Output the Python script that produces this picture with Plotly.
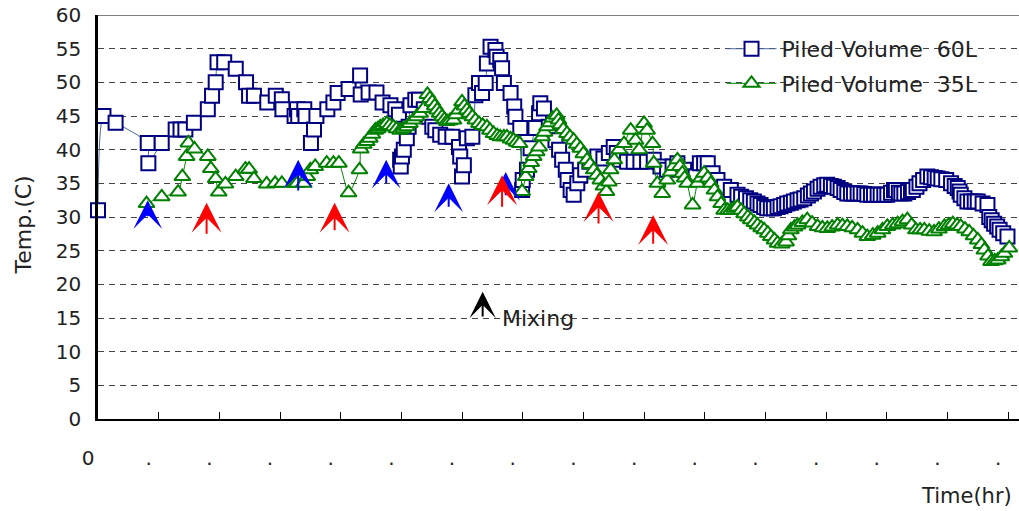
import plotly.graph_objects as go

# ---------------- data ----------------
time_60 = [0.00, 0.09, 0.29, 0.82, 0.83, 1.05, 1.28, 1.36, 1.44, 1.58, 1.81, 1.88, 1.94, 1.97, 2.08,
           2.27, 2.44, 2.49, 2.57, 2.79, 2.93, 3.03, 3.04, 3.24, 3.28, 3.30, 3.40, 3.42, 3.51, 3.56,
           3.60, 3.78, 3.88, 3.95, 4.13, 4.32, 4.33, 4.46, 4.59, 4.69, 4.82, 4.90, 4.96, 4.98, 4.99,
           5.01, 5.04, 5.09, 5.12, 5.15, 5.23, 5.29, 5.37, 5.45, 5.51, 5.56, 5.64, 5.73, 5.84, 5.95,
           5.97, 6.00, 6.03, 6.08, 6.17, 6.22, 6.28, 6.33, 6.39, 6.41, 6.47, 6.55, 6.57, 6.63, 6.66,
           6.69, 6.80, 6.86, 6.88, 6.96, 6.99, 7.00, 7.07, 7.13, 7.21, 7.27, 7.29, 7.35, 7.43, 7.54,
           7.60, 7.65, 7.71, 7.74, 7.79, 7.84, 7.90, 7.95, 8.03, 8.10, 8.23, 8.33, 8.42, 8.50, 8.55,
           8.61, 8.72, 8.83, 8.94, 9.05, 9.16, 9.27, 9.38, 9.47, 9.55, 9.66, 9.77, 9.85, 9.92, 9.99,
           10.05, 10.13, 10.21, 10.32, 10.43, 10.54, 10.60, 10.68, 10.75, 10.81, 10.87, 10.92, 10.98,
           11.03, 11.09, 11.14, 11.20, 11.25, 11.31, 11.36, 11.42, 11.47, 11.53, 11.58, 11.64, 11.70,
           11.75, 11.80, 11.86, 11.91, 11.97, 12.02, 12.08, 12.13, 12.19, 12.24, 12.30, 12.35, 12.41,
           12.46, 12.52, 12.57, 12.63, 12.68, 12.74, 12.79, 12.85, 12.90, 12.96, 13.01, 13.07, 13.12,
           13.15, 13.20, 13.24, 13.29, 13.35, 13.40, 13.43, 13.49, 13.54, 13.60, 13.67, 13.73, 13.79,
           13.84, 13.90, 13.98, 14.06, 14.12, 14.17, 14.20, 14.22, 14.28, 14.33, 14.39, 14.45, 14.50,
           14.58, 14.66, 14.69, 14.73, 14.77, 14.82, 14.86, 14.92, 14.99]
temp_60 = [31.0, 45.0, 44.0, 41.0, 38.0, 41.0, 43.0, 43.0, 43.0, 44.0, 46.0, 48.0, 50.0, 53.0, 53.0,
           52.0, 50.0, 48.0, 48.0, 47.0, 48.0, 47.5, 46.0, 45.0, 46.0, 45.0, 46.0, 45.0, 41.0, 43.0,
           45.0, 46.0, 47.0, 48.4, 49.0, 51.0, 48.2, 48.5, 48.5, 47.0, 46.6, 46.0, 45.2, 38.5, 37.5,
           39.0, 40.0, 41.7, 43.4, 46.6, 47.4, 47.4, 46.0, 44.9, 43.4, 42.9, 42.2, 41.9, 41.9, 40.4,
           39.0, 36.0, 37.7, 41.7, 41.9, 48.1, 49.9, 48.4, 49.9, 52.8, 55.3, 54.8, 53.8, 53.3, 52.1,
           49.9, 48.4, 46.4, 44.9, 43.2, 34.0, 35.5, 37.0, 40.2, 43.2, 45.4, 46.9, 46.1, 43.4, 41.4,
           40.0, 38.5, 37.0, 35.5, 34.0, 33.3, 35.0, 36.2, 37.0, 38.2, 39.0, 38.7, 39.5, 40.4, 39.5,
           38.5, 38.2, 38.2, 38.2, 38.2, 38.5, 37.5, 37.0, 37.5, 38.0, 37.0, 36.0, 36.0, 38.0, 38.0,
           38.0, 36.5, 35.5, 34.5, 34.0, 33.3, 33.0, 32.8, 32.5, 32.3, 32.0, 31.8, 31.5,
           31.3, 31.3, 31.3, 31.5, 31.6, 31.8, 32.0, 32.1, 32.3, 32.5, 32.6, 32.8, 33.2,
           33.5, 33.8, 34.2, 34.5, 34.7, 34.8, 34.6, 34.5, 34.3, 34.0, 33.7, 33.5, 33.5,
           33.5, 33.5, 33.5, 33.4, 33.3, 33.3, 33.3, 33.3, 33.3, 33.3, 33.3, 33.6, 34.0,
           34.0, 33.6, 33.5, 33.5, 33.7, 34.0, 34.0, 34.5, 35.0, 35.5, 36.0, 35.9, 35.8,
           35.7, 35.6, 35.5, 35.0, 34.6, 34.3, 33.8, 33.3, 32.8, 32.3, 32.3, 32.3, 32.3,
           32.0, 31.8, 30.0, 29.5, 29.0, 28.6, 28.1, 27.6, 27.1]

time_35 = [0.80, 1.05, 1.32, 1.39, 1.46, 1.49, 1.59, 1.81, 1.86, 1.94, 1.99, 2.10, 2.27, 2.43, 2.49,
           2.57, 2.78, 2.92, 3.03, 3.24, 3.28, 3.39, 3.45, 3.50, 3.58, 3.77, 3.88, 3.97, 4.13, 4.31,
           4.33, 4.38, 4.43, 4.48, 4.52, 4.57, 4.61, 4.65, 4.70, 4.76, 4.81, 4.87, 4.92, 4.98, 5.03,
           5.09, 5.14, 5.20, 5.25, 5.31, 5.37, 5.43, 5.47, 5.51, 5.55, 5.59, 5.63, 5.67, 5.71, 5.75,
           5.80, 5.86, 5.90, 5.95, 6.00, 6.04, 6.08, 6.12, 6.17, 6.22, 6.28, 6.34, 6.41, 6.46, 6.52,
           6.58, 6.63, 6.69, 6.74, 6.80, 6.85, 6.90, 6.95, 6.99, 7.05, 7.10, 7.14, 7.18, 7.23, 7.27,
           7.32, 7.36, 7.40, 7.45, 7.49, 7.56, 7.59, 7.62, 7.67, 7.73, 7.78, 7.84, 7.89, 7.95, 8.00,
           8.06, 8.11, 8.17, 8.22, 8.28, 8.33, 8.38, 8.42, 8.45, 8.51, 8.59, 8.67, 8.78, 8.86, 8.92,
           9.00, 9.05, 9.14, 9.16, 9.22, 9.30, 9.38, 9.44, 9.49, 9.55, 9.59, 9.63, 9.67, 9.71, 9.80,
           9.88, 9.94, 9.99, 10.05, 10.10, 10.16, 10.21, 10.27, 10.32, 10.38, 10.43, 10.49, 10.54,
           10.60, 10.65, 10.71, 10.76, 10.82, 10.87, 10.93, 10.98, 11.04, 11.09, 11.15, 11.20, 11.27,
           11.34, 11.38, 11.42, 11.48, 11.53, 11.61, 11.69, 11.77, 11.86, 11.94, 12.02, 12.10, 12.19,
           12.27, 12.35, 12.43, 12.52, 12.60, 12.68, 12.77, 12.85, 12.93, 13.01, 13.10, 13.18, 13.26,
           13.34, 13.41, 13.48, 13.55, 13.62, 13.70, 13.78, 13.86, 13.95, 14.02, 14.09, 14.16, 14.22,
           14.29, 14.36, 14.43, 14.50, 14.56, 14.61, 14.67, 14.72, 14.78, 14.83, 14.89, 14.94, 15.02]
temp_35 = [32.0, 33.0, 33.7, 36.0, 39.0, 41.0, 40.1, 39.0, 37.2, 35.7, 33.7, 34.9, 36.0, 37.1, 37.1,
           35.7, 34.9, 35.0, 35.0, 35.0, 35.0, 35.0, 36.0, 37.0, 37.5, 38.0, 38.0, 38.0, 33.6, 37.0,
           40.1, 40.8, 41.2, 41.7, 42.3, 42.9, 43.1, 43.4, 43.6, 43.9, 43.6, 43.4, 43.1, 42.9, 43.1,
           43.4, 43.9, 44.4, 44.9, 45.4, 46.1, 48.2, 47.6, 47.1, 46.5, 45.9, 45.4, 44.9, 44.5, 44.2,
           44.3, 44.4, 45.2, 45.9, 47.1, 46.5, 45.9, 45.4, 44.9, 44.4, 43.9, 43.6, 43.4, 42.9, 42.4,
           42.1, 41.9, 41.9, 41.9, 41.6, 41.4, 41.1, 40.9, 33.8, 36.0, 37.2, 38.1, 39.0, 39.7, 40.4,
           41.9, 42.6, 43.4, 44.0, 44.7, 45.1, 44.4, 43.7, 43.0, 42.4, 41.9, 41.4, 40.8, 40.2, 39.4,
           38.5, 37.8, 37.0, 36.2, 35.5, 34.6, 33.8, 35.2, 37.0, 38.5, 40.0, 40.9, 42.9, 41.4, 40.0,
           43.9, 42.9, 40.9, 38.0, 35.0, 33.5, 35.5, 36.7, 37.5, 38.5, 37.5, 36.5, 35.8, 35.0, 31.8,
           35.0, 35.8, 36.5, 35.8, 35.0, 34.0, 33.0, 32.0, 31.0, 31.0, 31.0, 31.3, 31.5,
           31.0, 30.5, 30.0, 29.6, 29.2, 28.8, 28.4, 28.1, 27.6, 27.1, 26.6, 26.1, 26.0,
           26.3, 27.2, 28.1, 28.5, 28.8, 29.2, 29.6, 29.1, 28.6, 28.4, 28.3, 28.5, 28.8,
           28.7, 28.6, 28.4, 28.1, 27.6, 27.1, 27.3, 27.6, 28.1, 28.6, 28.8, 29.0, 29.3,
           29.6, 28.8, 28.1, 28.1, 28.1, 27.9, 27.8, 28.2, 28.6, 28.8, 29.0, 28.8, 28.6,
           28.2, 27.8, 27.2, 26.6, 25.9, 25.1, 24.2, 23.4, 23.5, 23.6, 24.1, 24.6, 25.4]

series_names = ["Piled Volume\u00a0\u00a060L", "Piled Volume\u00a0\u00a035L"]

# event arrows (time, tip temp, tail temp)
blue_arrow_time = [0.82, 3.30, 4.75, 5.78, 6.72]
blue_arrow_tip = [32.5, 38.5, 38.5, 35.0, 36.7]
blue_arrow_tail = [29.9, 33.7, 34.8, 31.3, 33.0]
red_arrow_time = [1.79, 3.90, 6.66, 8.25, 9.15]
red_arrow_tip = [32.1, 32.1, 36.2, 33.7, 30.3]
red_arrow_tail = [27.3, 27.8, 31.3, 28.8, 25.8]
mix_arrow_time = 6.34
mix_arrow_tip = 18.9
mix_arrow_tail = 15.0
mix_label = "Mixing"

x_tick_vals = list(range(0, 16))
x_tick_text = ["0"] + ["."] * 15
y_tick_vals = list(range(0, 61, 5))

FONT = "DejaVu Sans"
TXT = "#222222"

fig = go.Figure()
fig.add_trace(go.Scatter(
    x=time_60, y=temp_60, name=series_names[0], mode="lines+markers",
    line=dict(color="#4a6a9a", width=1, shape="spline", smoothing=0.6),
    marker=dict(symbol="square", size=14, color="white",
                line=dict(color="#000080", width=2)),
    cliponaxis=False, legendgroup="a"))
fig.add_trace(go.Scatter(
    x=time_35, y=temp_35, name=series_names[1], mode="lines+markers",
    line=dict(color="#008000", width=1, shape="spline", smoothing=0.6),
    marker=dict(symbol="triangle-up", size=14, color="white",
                line=dict(color="#008000", width=2)),
    cliponaxis=False, legendgroup="b"))

annotations = []
for t, tip, tail in zip(blue_arrow_time, blue_arrow_tip, blue_arrow_tail):
    annotations.append(dict(x=t, y=tip, ax=t, ay=tail, xref="x", yref="y", axref="x", ayref="y",
                            text="", showarrow=True, arrowhead=3, arrowsize=2.4, arrowwidth=2,
                            arrowcolor="#0000ff"))
for t, tip, tail in zip(red_arrow_time, red_arrow_tip, red_arrow_tail):
    annotations.append(dict(x=t, y=tip, ax=t, ay=tail, xref="x", yref="y", axref="x", ayref="y",
                            text="", showarrow=True, arrowhead=3, arrowsize=2.5, arrowwidth=2,
                            arrowcolor="#ff0000"))
annotations.append(dict(x=mix_arrow_time, y=mix_arrow_tip, ax=mix_arrow_time, ay=mix_arrow_tail,
                        xref="x", yref="y", axref="x", ayref="y", text="", showarrow=True,
                        arrowhead=3, arrowsize=2.2, arrowwidth=2, arrowcolor="#000000"))
annotations.append(dict(x=6.63, y=15.0, xref="x", yref="y", text=mix_label, showarrow=False,
                        xanchor="left", yanchor="middle", font=dict(family=FONT, size=22, color=TXT)))
annotations.append(dict(x=1.0, y=-0.19, xref="paper", yref="paper", text="Time(hr)",
                        showarrow=False, xanchor="right", yanchor="middle", xshift=-5,
                        font=dict(family=FONT, size=21, color=TXT)))
annotations.append(dict(x=-0.081, y=0.48, xref="paper", yref="paper", text="Temp.(C)",
                        showarrow=False, textangle=-90, xanchor="center", yanchor="middle",
                        font=dict(family=FONT, size=22, color=TXT)))

fig.update_layout(
    width=1019, height=511,
    margin=dict(l=98, r=0, t=15, b=92),
    paper_bgcolor="white", plot_bgcolor="white",
    font=dict(family=FONT, size=20, color=TXT),
    showlegend=True,
    legend=dict(x=0.677, y=0.968, xanchor="left", yanchor="top", bgcolor="rgba(0,0,0,0)",
                font=dict(family=FONT, size=22, color=TXT), itemwidth=50,
                traceorder="grouped", tracegroupgap=3),
    annotations=annotations,
    shapes=[dict(type="line", xref="paper", yref="y", x0=0, x1=1, y0=60, y1=60,
                 line=dict(color="#808080", width=2))],
)
fig.update_xaxes(range=[0, 15.18], tickvals=x_tick_vals, ticktext=x_tick_text,
                 showgrid=False, zeroline=False, showline=True, linecolor="black", linewidth=2,
                 ticks="inside", ticklen=7, tickwidth=1, tickcolor="black",
                 ticklabelshift=-10, ticklabelstandoff=20,
                 tickfont=dict(family=FONT, size=20, color=TXT))
fig.update_yaxes(range=[0, 60], tickvals=y_tick_vals, showgrid=True, gridcolor="#444444",
                 gridwidth=1, griddash="6px,5px", zeroline=False, showline=True,
                 linecolor="black", linewidth=2.5, ticks="", ticklabelstandoff=10,
                 tickfont=dict(family=FONT, size=20, color=TXT))

fig.write_html("out.html")
